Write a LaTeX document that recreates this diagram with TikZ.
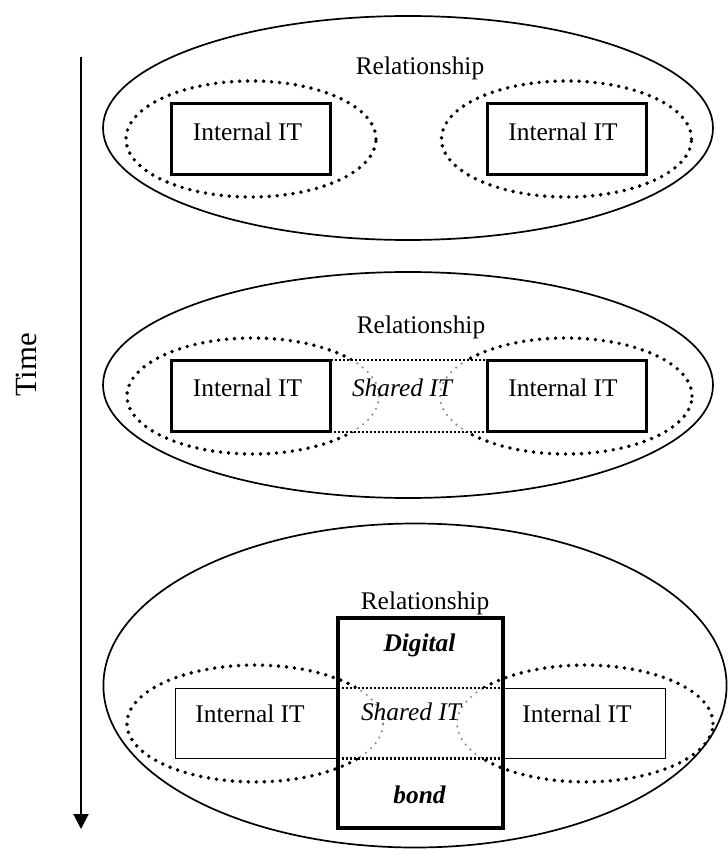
\documentclass[tikz,border=0pt]{standalone}
\usepackage{fontspec}
\setmainfont{Liberation Serif}
\usetikzlibrary{arrows.meta}
\begin{document}
\begin{tikzpicture}[x=0.5pt,y=-0.5pt,
  outer/.style={line width=0.85pt},
  dotell/.style={line width=1.95pt, line cap=round, dash pattern=on 0pt off 4pt},
  greyell/.style={line width=1.2pt, line cap=round, dash pattern=on 0pt off 3.4pt, draw=black!45},
  thickbox/.style={draw, line width=1.5pt, minimum width=79.5pt, minimum height=35.5pt, inner sep=0pt},
  thinbox/.style={draw, line width=0.5pt, minimum width=81.5pt, minimum height=35pt, inner sep=0pt},
  sharedbox/.style={minimum width=78.5pt, minimum height=35.5pt, inner sep=0pt},
  bondbox/.style={draw, line width=1.6pt, minimum width=82.5pt, minimum height=105pt, inner sep=0pt},
  lbl/.style={inner sep=0pt, font=\fontsize{12.7}{15}\selectfont},
  sqdots/.style={line width=1.1pt, dash pattern=on 1pt off 1pt}
]
\useasboundingbox (0,0) rectangle (727,849);

% ---- time axis
\coordinate (tstart) at (81,57);
\coordinate (tend) at (81,829);
\draw[line width=1pt, -{Triangle[length=7.5pt,width=7.5pt]}] (tstart) -- (tend);
\node[inner sep=0pt, rotate=90, font=\fontsize{15.4}{18}\selectfont] (time) at (26,365) {Time};

% ================= row 1
\draw[outer] (408,128) ellipse [x radius=152.5pt, y radius=56pt];
\draw[dotell] (251,139) ellipse [x radius=62.5pt, y radius=29pt];
\draw[dotell] (566.5,139) ellipse [x radius=62.5pt, y radius=29pt];
\node[thickbox] (a1) at (250.5,139.5) {};
\node[thickbox] (a2) at (566.5,139.5) {};
\node[lbl] (a1t) at (247.5,132) {Internal IT};
\node[lbl] (a2t) at (563,132) {Internal IT};
\node[lbl] (r1) at (420,68) {Relationship};

% ================= row 2
\draw[outer] (408,385) ellipse [x radius=152.5pt, y radius=56.5pt];
\draw[dotell] (253,396) ellipse [x radius=63pt, y radius=29pt];
\draw[dotell] (566,396) ellipse [x radius=63pt, y radius=29pt];
\node[sharedbox, fill=white] (s2) at (408.5,396) {};
\begin{scope}
  \clip (s2.south west) rectangle (s2.north east);
  \draw[greyell] (253,396) ellipse [x radius=63pt, y radius=29pt];
  \draw[greyell] (566,396) ellipse [x radius=63pt, y radius=29pt];
\end{scope}
\draw[sqdots] (s2.north west) rectangle (s2.south east);
\node[thickbox] (b1) at (250.5,396) {};
\node[thickbox] (b2) at (566.5,396) {};
\node[lbl] (b1t) at (247.5,388) {Internal IT};
\node[lbl] (b2t) at (563,388) {Internal IT};
\node[lbl] (s2t) at (402,388) {\itshape Shared IT};
\node[lbl] (r2) at (421,327) {Relationship};

% ================= row 3
\draw[outer] (415,685.5) ellipse [x radius=155.8pt, y radius=81pt];
\draw[dotell] (255,723.5) ellipse [x radius=64pt, y radius=29.2pt];
\draw[dotell] (585,723.5) ellipse [x radius=64pt, y radius=29.2pt];
\node[thinbox] (c1) at (256.5,723) {};
\node[thinbox] (c2) at (584,723) {};
\node[bondbox, fill=white] (db) at (420.5,723) {};
\begin{scope}
  \clip (db.north west) rectangle (db.south east);
  \draw[dotell] (255,723.5) ellipse [x radius=64pt, y radius=29.2pt];
  \draw[dotell] (585,723.5) ellipse [x radius=64pt, y radius=29.2pt];
\end{scope}
\node[minimum width=82.5pt, minimum height=35pt, inner sep=0pt, fill=white] (s3) at (420.5,723) {};
\begin{scope}
  \clip (s3.south west) rectangle (s3.north east);
  \draw[greyell] (255,723.5) ellipse [x radius=64pt, y radius=29.2pt];
  \draw[greyell] (585,723.5) ellipse [x radius=64pt, y radius=29.2pt];
\end{scope}
\draw[sqdots] (s3.north west) -- (s3.north east);
\draw[sqdots] (s3.south west) -- (s3.south east);
\node[bondbox] (db2) at (420.5,723) {};
\node[lbl] (c1t) at (250,714) {Internal IT};
\node[lbl] (c2t) at (577,714) {Internal IT};
\node[lbl] (s3t) at (411,712) {\itshape Shared IT};
\node[lbl] (dt) at (419.5,645) {\bfseries\itshape Digital};
\node[lbl] (bt) at (419.5,795) {\bfseries\itshape bond};
\node[lbl] (r3) at (425,603) {Relationship};
\end{tikzpicture}
\end{document}
